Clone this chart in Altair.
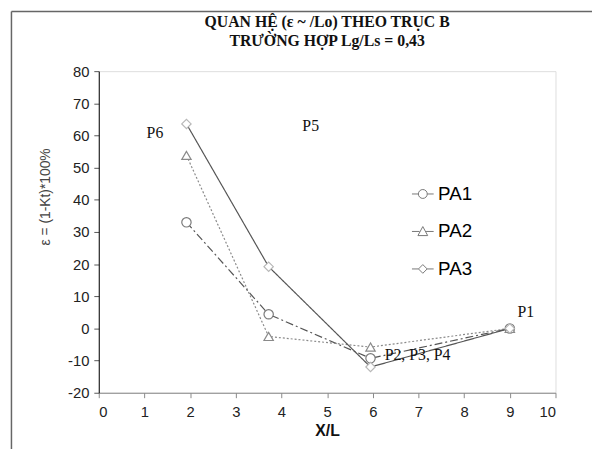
import altair as alt
import pandas as pd

# ---- data ----
x_pos = [1.92, 3.72, 5.95, 9.0]
pa1 = [33.0, 4.4, -9.3, 0.0]
pa2 = [53.8, -2.5, -5.8, 0.0]
pa3 = [63.6, 19.2, -12.0, 0.0]
series = ["PA1", "PA2", "PA3"]

ann_text = ["P6", "P5", "P1", "P2, P3, P4"]
ann_x = [1.23, 4.64, 9.35, 6.98]
ann_y = [60.8, 62.9, 5.2, -8.3]

x_ticks = list(range(0, 11))
y_ticks = list(range(-20, 81, 10))

rows = []
for name, vals in zip(series, [pa1, pa2, pa3]):
    for xv, yv in zip(x_pos, vals):
        rows.append({"series": name, "x": xv, "y": yv})
df = pd.DataFrame(rows)
ann = pd.DataFrame({"t": ann_text, "x": ann_x, "y": ann_y})

W, H = 463, 326
xs = alt.Scale(domain=[0, 10], nice=False, zero=False)
ys = alt.Scale(domain=[-20, 80], nice=False, zero=False)

X = alt.X("x:Q", scale=xs, title="X/L",
          axis=alt.Axis(values=x_ticks, grid=False, domainColor="#888888",
                        tickColor="#888888", tickSize=5, labelPadding=7, labelOverlap=False,
                        labelFontSize=15, labelFont="Liberation Sans", labelColor="#222222",
                        titleFont="Liberation Sans", titleFontSize=16, titleFontWeight="bold",
                        titleColor="#111111", titlePadding=3))
Y = alt.Y("y:Q", scale=ys, title="ε = (1-Kt)*100%",
          axis=alt.Axis(values=y_ticks, grid=False, domainColor="#000000",
                        tickColor="#555555", tickSize=5, labelPadding=5, labelOverlap=False,
                        labelExpr="'' + datum.value",
                        labelFontSize=15, labelFont="Liberation Sans", labelColor="#222222",
                        titleFont="Liberation Sans", titleFontSize=14, titleFontWeight="normal",
                        titleColor="#444444", titleAngle=-90, titleX=-54, titleY=127,
                        titleAlign="center", titleBaseline="middle"))

lines = alt.Chart(df).mark_line(strokeWidth=1.2).encode(
    x=X, y=Y,
    color=alt.Color("series:N", scale=alt.Scale(domain=series, range=["#555555", "#8a8a8a", "#555555"]), legend=None),
    strokeDash=alt.StrokeDash("series:N", scale=alt.Scale(domain=series, range=[[8, 3, 2, 3], [2, 2], [1, 0]]), legend=None),
    detail="series:N",
)

points = alt.Chart(df).mark_point(filled=False, fill="white", fillOpacity=1, opacity=1, strokeWidth=1.2, size=90).encode(
    x=X, y=Y,
    shape=alt.Shape("series:N", scale=alt.Scale(domain=series, range=["circle", "triangle-up", "diamond"]), legend=None),
    stroke=alt.Stroke("series:N", scale=alt.Scale(domain=series, range=["#7a7a7a", "#8a8a8a", "#b8b8b8"]), legend=None),
)

paths = [
    "M-1,0H-0.41M0.41,0H1M0.41,0A0.41,0.41,0,1,1,-0.41,0A0.41,0.41,0,1,1,0.41,0Z",
    "M-1,0H-0.3M0.3,0H1M0,-0.45L0.45,0.38L-0.45,0.38Z",
    "M-1,0H-0.4M0.4,0H1M0,-0.4L0.4,0L0,0.4L-0.4,0Z",
]
legend_layer = alt.Chart(df).mark_point(filled=False, opacity=0, color="#777777").encode(
    x=X, y=Y,
    shape=alt.Shape("series:N", scale=alt.Scale(domain=series, range=paths),
                    legend=alt.Legend(title=None, orient="none", legendX=317, legendY=113,
                                      symbolSize=484, symbolStrokeColor="#777777",
                                      symbolFillColor="white", symbolOpacity=1, symbolStrokeWidth=1,
                                      labelFont="Liberation Sans", labelFontSize=19,
                                      labelColor="#000000", labelOffset=4, rowPadding=16,
                                      padding=0)),
)

texts = alt.Chart(ann).mark_text(font="Liberation Serif", fontSize=16, color="#111111",
                                 align="center", baseline="middle").encode(
    x=X, y=Y, text="t:N")

border_df = pd.DataFrame({"k": [0]})
left_border = alt.Chart(border_df).mark_rule(color="#666666", strokeWidth=1.5).encode(
    x=alt.value(-88.5), y=alt.value(-60.5), y2=alt.value(400))
top_border = alt.Chart(border_df).mark_rule(color="#666666", strokeWidth=1.5).encode(
    x=alt.value(-88.5), x2=alt.value(520), y=alt.value(-60.5))

chart = alt.layer(left_border, top_border, lines, points, legend_layer, texts).resolve_scale(
    shape="independent"
).properties(
    width=W, height=H,
    title=alt.TitleParams(["QUAN HỆ (ε ~ /Lo) THEO TRỤC B", "TRƯỜNG HỢP Lg/Ls = 0,43"],
                          font="Liberation Serif", fontSize=16, fontWeight="bold",
                          color="#111111", anchor="middle", lineHeight=20, offset=-55,
                          frame="group", baseline="bottom"),
    autosize=alt.AutoSizeParams(type="none"),
    padding={"left": 92, "top": 61, "right": 37, "bottom": 54},
).configure_view(
    stroke="#8c8c8c", strokeWidth=1.5
).configure(background="white")

chart.save("out.html", embed_options={"renderer": "svg", "actions": False})
